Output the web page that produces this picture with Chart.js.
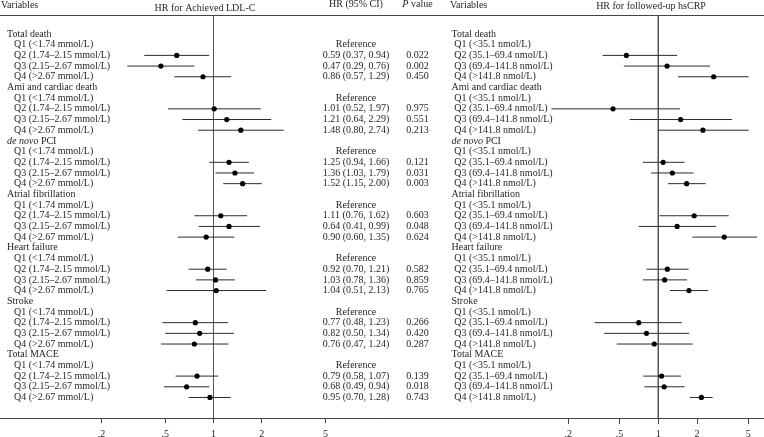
<!DOCTYPE html>
<html><head><meta charset="utf-8">
<script src="https://cdn.jsdelivr.net/npm/chart.js@4.4.1/dist/chart.umd.min.js"></script>
<style>
html,body{margin:0;padding:0;background:#fff;}
#wrap{position:relative;width:764px;height:437px;overflow:hidden;background:#fff;}
canvas{display:block;}
</style></head><body>
<div id="wrap"><canvas id="c" width="764" height="437"></canvas></div>
<script>
// ---------- data ----------
const groups = ['Total death','Ami and cardiac death','de novo PCI','Atrial fibrillation','Heart failure','Stroke','Total MACE'];
const groupItalic = ['', '', 'de novo', '', '', '', ''];
const ldlQuartiles = ['Q1 (<1.74 mmol/L)','Q2 (1.74–2.15 mmol/L)','Q3 (2.15–2.67 mmol/L)','Q4 (>2.67 mmol/L)'];
const crpQuartiles = ['Q1 (<35.1 nmol/L)','Q2 (35.1–69.4 nmol/L)','Q3 (69.4–141.8 nmol/L)','Q4 (>141.8 nmol/L)'];
const tickValues = [0.2, 0.5, 1, 2, 5];
const tickLabels = ['.2', '.5', '1', '2', '5'];
const referenceHR = 1;

// LDL-C: plotted HR and CI for Q2, Q3, Q4 of each outcome (Q1 = reference)
const ldlHR = [[0.59,0.47,0.86],[1.01,1.21,1.48],[1.25,1.36,1.52],[1.11,1.25,0.90],[0.92,1.03,1.04],[0.77,0.82,0.76],[0.79,0.68,0.95]];
const ldlLo = [[0.37,0.29,0.57],[0.52,0.64,0.80],[0.94,1.03,1.15],[0.76,0.81,0.60],[0.70,0.78,0.51],[0.48,0.50,0.47],[0.58,0.49,0.70]];
const ldlHi = [[0.94,0.76,1.29],[1.97,2.29,2.74],[1.66,1.79,2.00],[1.62,1.95,1.35],[1.21,1.36,2.13],[1.23,1.34,1.24],[1.07,0.94,1.28]];
const ldlCIText = [
  ['0.59 (0.37, 0.94)','0.47 (0.29, 0.76)','0.86 (0.57, 1.29)'],
  ['1.01 (0.52, 1.97)','1.21 (0.64, 2.29)','1.48 (0.80, 2.74)'],
  ['1.25 (0.94, 1.66)','1.36 (1.03, 1.79)','1.52 (1.15, 2.00)'],
  ['1.11 (0.76, 1.62)','0.64 (0.41, 0.99)','0.90 (0.60, 1.35)'],
  ['0.92 (0.70, 1.21)','1.03 (0.78, 1.36)','1.04 (0.51, 2.13)'],
  ['0.77 (0.48, 1.23)','0.82 (0.50, 1.34)','0.76 (0.47, 1.24)'],
  ['0.79 (0.58, 1.07)','0.68 (0.49, 0.94)','0.95 (0.70, 1.28)']];
const ldlP = [['0.022','0.002','0.450'],['0.975','0.551','0.213'],['0.121','0.031','0.003'],['0.603','0.048','0.624'],['0.582','0.859','0.765'],['0.266','0.420','0.287'],['0.139','0.018','0.743']];

// hsCRP: plotted HR and CI for Q2, Q3, Q4
const crpHR = [[0.565,1.17,2.69],[0.445,1.49,2.22],[1.09,1.285,1.66],[1.90,1.40,3.25],[1.175,1.12,1.73],[0.705,0.81,0.93],[1.06,1.11,2.16]];
const crpLo = [[0.37,0.54,1.42],[0.148,0.60,0.99],[0.76,0.88,1.19],[1.02,0.705,1.84],[0.81,0.76,1.23],[0.32,0.38,0.475],[0.765,0.78,1.76]];
const crpHi = [[1.40,2.52,5.03],[1.47,3.73,5.03],[1.60,1.88,2.33],[3.52,2.81,5.84],[1.72,1.67,2.44],[1.52,1.74,1.85],[1.50,1.60,2.64]];

// ---------- rendering ----------
const FONT = "'Liberation Serif','Times New Roman',serif";
const TXT = '#231f20';
const FS = 10;
const W = 764;
const Y_MIN = -1.684, Y_MAX = 35.92;

function buildRows(quartiles){
  const rows = [];
  groups.forEach((g, gi) => {
    rows.push({kind:'group', label:g, italic:groupItalic[gi], g:gi});
    quartiles.forEach((q, qi) => rows.push({kind:'q', label:q, g:gi, q:qi}));
  });
  return rows;
}

function drawParts(ctx, parts, x, y, align){
  let total = 0;
  parts.forEach(p => { ctx.font = (p.i ? 'italic ' : '') + FS + 'px ' + FONT; p.w = ctx.measureText(p.t).width; total += p.w; });
  let cx = align === 'center' ? x - total/2 : x;
  parts.forEach(p => { ctx.font = (p.i ? 'italic ' : '') + FS + 'px ' + FONT; ctx.textAlign = 'left'; ctx.fillText(p.t, cx, y); cx += p.w; });
}

const panels = [
  { axis:'xL', quartiles:ldlQuartiles, hr:ldlHR, lo:ldlLo, hi:ldlHi, ciText:ldlCIText, pText:ldlP,
    refPx:213.5, pxPerDecade:160.4, groupX:7, qX:14, ciX:356, pX:417.5,
    headers:[
      {parts:[{t:'Variables'}], x:1, y:5, align:'left'},
      {parts:[{t:'HR for Achieved LDL-C'}], x:205, y:8, align:'center'},
      {parts:[{t:'HR (95% CI)'}], x:356, y:4.5, align:'center'},
      {parts:[{t:'P', i:true},{t:' value'}], x:417.5, y:4.5, align:'center'}]},
  { axis:'xR', quartiles:crpQuartiles, hr:crpHR, lo:crpLo, hi:crpHi, ciText:null, pText:null,
    refPx:658.3, pxPerDecade:128.8, groupX:451.5, qX:454.3,
    headers:[
      {parts:[{t:'Variables'}], x:450, y:5, align:'left'},
      {parts:[{t:'HR for followed-up hsCRP'}], x:651, y:6.5, align:'center'}]}
];
panels.forEach(P => { P.rows = buildRows(P.quartiles); });

const datasets = [];
const ciSets = [];
panels.forEach(P => {
  const pts = [];
  P.rows.forEach((r, i) => {
    if (r.kind === 'q' && r.q > 0) {
      const k = r.q - 1;
      pts.push({x:P.hr[r.g][k], y:i});
      ciSets.push({type:'scatter', xAxisID:P.axis, showLine:true,
        data:[{x:P.lo[r.g][k], y:i},{x:P.hi[r.g][k], y:i}],
        borderColor:'#2b2b2b', borderWidth:1, pointRadius:0, pointHoverRadius:0});
    }
  });
  datasets.push({type:'scatter', xAxisID:P.axis, data:pts, pointRadius:2.6, pointStyle:'circle',
    backgroundColor:'#000', borderColor:'#000', borderWidth:0});
  ciSets.push({type:'scatter', xAxisID:P.axis, showLine:true,
    data:[{x:referenceHR, y:Y_MIN},{x:referenceHR, y:Y_MAX}],
    borderColor:'#555', borderWidth:1, pointRadius:0, pointHoverRadius:0});
});
datasets.push(...ciSets);

const textPlugin = {
  id:'texts',
  afterDraw(chart){
    const ctx = chart.ctx, ys = chart.scales.y, ca = chart.chartArea;
    ctx.save();
    ctx.strokeStyle = '#444'; ctx.lineWidth = 1;
    ctx.beginPath(); ctx.moveTo(0, ca.top - 0.5); ctx.lineTo(chart.width, ca.top - 0.5); ctx.stroke();
    ctx.fillStyle = TXT; ctx.textBaseline = 'middle';
    panels.forEach(P => {
      P.headers.forEach(h => drawParts(ctx, h.parts, h.x, h.y, h.align));
      P.rows.forEach((r, i) => {
        const y = ys.getPixelForValue(i);
        if (r.kind === 'group') {
          if (r.italic) drawParts(ctx, [{t:r.italic, i:true},{t:r.label.slice(r.italic.length)}], P.groupX, y, 'left');
          else drawParts(ctx, [{t:r.label}], P.groupX, y, 'left');
        } else {
          drawParts(ctx, [{t:r.label}], P.qX, y, 'left');
          if (P.ciText) {
            const t = r.q === 0 ? 'Reference' : P.ciText[r.g][r.q-1];
            drawParts(ctx, [{t:t}], P.ciX, y, 'center');
            if (r.q > 0) drawParts(ctx, [{t:P.pText[r.g][r.q-1]}], P.pX, y, 'center');
          }
        }
      });
    });
    ctx.restore();
  }
};

function xAxis(P, position){
  return {type:'logarithmic', axis:'x', position:position,
    min:Math.pow(10, -P.refPx / P.pxPerDecade), max:Math.pow(10, (W - P.refPx) / P.pxPerDecade),
    afterBuildTicks:(s) => { s.ticks = tickValues.map(v => ({value:v})); },
    afterFit:(s) => { s.height = 19; },
    ticks:{autoSkip:false, maxRotation:0, padding:5, color:TXT, font:{family:FONT, size:10},
      callback:(v, idx) => tickLabels[idx]},
    grid:{drawOnChartArea:false, drawTicks:true, tickLength:5, lineWidth:1, tickColor:'#444', color:'#444'},
    border:{display:true, color:'#444', width:1}};
}

new Chart(document.getElementById('c'), {
  type:'scatter',
  data:{datasets},
  plugins:[textPlugin],
  options:{
    responsive:false, maintainAspectRatio:false, animation:false, events:[],
    layout:{autoPadding:false, padding:{top:16, left:0, right:0, bottom:0}},
    plugins:{legend:{display:false}, tooltip:{enabled:false}},
    scales:{
      xL:xAxis(panels[0], 'bottom'),
      xR:xAxis(panels[1], {y:Y_MAX}),
      y:{type:'linear', reverse:true, min:Y_MIN, max:Y_MAX, display:false}
    }
  }
});
</script>
</body></html>
